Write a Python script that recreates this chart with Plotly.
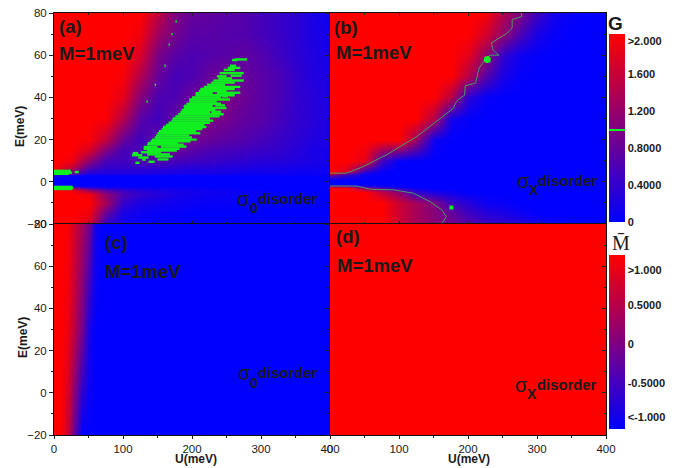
import plotly.graph_objects as go

W, H = 682, 468
BLUE_RED = [[0, "#0000ff"], [1, "#ff0000"]]

U_GRID = [0, 25, 50, 75, 100, 125, 150, 175, 200, 225, 250, 275, 300, 325, 350, 375, 400]
E_A = [80, 70, 60, 50, 40, 30, 20, 15, 10, 7, 5, 3.8, 3, 2, -1.5, -2.2, -3, -4, -6, -10, -15, -20]
G_A = [
    [2, 2, 2, 2, 2, 2, 1.5, 1.0, .8, .75, .7, .65, .55, .45, .35, .2, .1],
    [2, 2, 2, 2, 2, 1.9, 1.25, .9, .7, .7, .65, .65, .55, .45, .35, .2, .15],
    [2, 2, 2, 2, 2, 1.7, .95, .7, .6, .65, .7, .75, .65, .5, .35, .25, .15],
    [2, 2, 2, 2, 1.95, 1.4, .8, .55, .6, .8, .9, .8, .7, .6, .4, .25, .2],
    [2, 2, 2, 2, 1.8, 1.05, .6, .6, .85, .95, .95, .85, .7, .6, .4, .3, .2],
    [2, 2, 2, 1.95, 1.4, .7, .5, .8, 1, 1, .9, .75, .7, .55, .4, .3, .2],
    [2, 2, 1.95, 1.5, .8, .5, .8, .95, .9, .8, .7, .65, .55, .45, .35, .25, .2],
    [2, 2, 1.7, 1.0, .55, .6, .85, .85, .7, .6, .55, .5, .45, .4, .3, .2, .15],
    [2, 1.9, 1.1, .55, .5, .65, .65, .55, .5, .45, .4, .35, .3, .3, .25, .2, .15],
    [2, 1.6, .7, .4, .4, .4, .4, .35, .3, .3, .25, .25, .2, .2, .15, .15, .1],
    [2, 1.1, .4, .3, .3, .3, .25, .25, .2, .2, .2, .15, .15, .15, .1, .1, .1],
    [1.9, .7, .2, .2, .2, .2, .2, .15, .15, .15, .15, .1, .1, .1, .1, .1, .1],
    [.3, .1, .02, .02, .02, .02, .02, .02, .02, .02, .02, .02, .02, .02, .02, .02, .02],
    [0, 0, 0, 0, 0, 0, 0, 0, 0, 0, 0, 0, 0, 0, 0, 0, 0],
    [0, 0, 0, 0, 0, 0, 0, 0, 0, 0, 0, 0, 0, 0, 0, 0, 0],
    [.2, .1, .05, .02, 0, 0, 0, 0, 0, 0, 0, 0, 0, 0, 0, 0, 0],
    [1.8, 1.2, .6, .3, .2, .15, .12, .1, .08, .05, .05, 0, 0, 0, 0, 0, 0],
    [2, 1.9, 1.2, .7, .4, .3, .2, .15, .12, .1, .08, .05, .05, 0, 0, 0, 0],
    [2, 2, 1.9, 1.1, .6, .4, .3, .2, .15, .1, .1, .05, .05, 0, 0, 0, 0],
    [2, 2, 2, 1.3, .4, .2, .15, .1, .08, .05, .05, 0, 0, 0, 0, 0, 0],
    [2, 2, 1.9, .8, .2, .1, .05, .05, 0, 0, 0, 0, 0, 0, 0, 0, 0],
    [2, 2, 1.7, .4, .1, .05, 0, 0, 0, 0, 0, 0, 0, 0, 0, 0, 0],
]

E_B = [80, 70, 60, 50, 40, 30, 20, 10, 5, 4, 3, 1, -1, -2, -3, -5, -10, -15, -20]
G_B = [
    [2, 2, 2, 2, 2, 2, 2, 2, 2, 1.95, 1.4, 1.0, .5, .15, .05, 0, 0],
    [2, 2, 2, 2, 2, 2, 2, 2, 2, 1.7, 1.15, .6, .2, .05, 0, 0, 0],
    [2, 2, 2, 2, 2, 2, 2, 2, 1.8, 1.2, .4, .1, .03, 0, 0, 0, 0],
    [2, 2, 2, 2, 2, 2, 2, 2, 1.45, .7, .2, .03, 0, 0, 0, 0, 0],
    [2, 2, 2, 2, 2, 2, 2, 1.45, .35, .05, 0, 0, 0, 0, 0, 0, 0],
    [2, 2, 2, 2, 2, 2, 1.4, .15, .02, 0, 0, 0, 0, 0, 0, 0, 0],
    [2, 2, 2, 2, 2, 1.2, .1, 0, 0, 0, 0, 0, 0, 0, 0, 0, 0],
    [2, 2, 1.8, .5, .02, 0, 0, 0, 0, 0, 0, 0, 0, 0, 0, 0, 0],
    [2, 1.7, .5, .05, 0, 0, 0, 0, 0, 0, 0, 0, 0, 0, 0, 0, 0],
    [2, 1.0, .2, .02, 0, 0, 0, 0, 0, 0, 0, 0, 0, 0, 0, 0, 0],
    [.9, .4, .05, 0, 0, 0, 0, 0, 0, 0, 0, 0, 0, 0, 0, 0, 0],
    [0, 0, 0, 0, 0, 0, 0, 0, 0, 0, 0, 0, 0, 0, 0, 0, 0],
    [0, 0, 0, 0, 0, 0, 0, 0, 0, 0, 0, 0, 0, 0, 0, 0, 0],
    [1.1, .9, .3, .1, 0, 0, 0, 0, 0, 0, 0, 0, 0, 0, 0, 0, 0],
    [2, 2, 1.1, .7, .3, .1, 0, 0, 0, 0, 0, 0, 0, 0, 0, 0, 0],
    [2, 2, 2, 1.5, 1.1, .4, .2, .1, 0, 0, 0, 0, 0, 0, 0, 0, 0],
    [2, 2, 2, 2, 1.6, 1.3, 1.0, .5, .3, .1, .05, 0, 0, 0, 0, 0, 0],
    [2, 2, 2, 2, 1.6, 1.3, 1.05, .8, .5, .3, .2, .1, 0, 0, 0, 0, 0],
    [2, 2, 2, 2, 1.6, 1.3, 1.1, .9, .7, .5, .4, .3, .2, .1, 0, 0, 0],
]

U_C = [0, 10, 20, 30, 40, 50, 60, 70, 400]
E_C = [80, 30, -20]
M_C = [
    [1, 1, .95, .6, .3, -.1, -.85, -1, -1],
    [1, 1, .85, .4, -.1, -.8, -1, -1, -1],
    [1, 1, .55, -.3, -1, -1, -1, -1, -1],
]

U_D = [0, 400]
E_D = [-20, 80]
M_D = [[1, 1], [1, 1]]

# panel (a) green patches: E, U start, U end
GREEN_A = [
    (5.2, 0, 24), (4.8, 0, 24), (4.3, 0, 26), (3.8, 0, 22), (4.6, 30, 36),
    (-2.4, 0, 27), (-3, 0, 28), (-3.4, 0, 26),
    (9, 118, 124), (9.5, 137, 146), (10.5, 128, 133), (10.6, 150, 166),
    (11.5, 122, 137), (12, 146, 172), (12.6, 113, 128), (13, 135, 168), (13.6, 114, 122),
    (14, 126, 155), (14.8, 135, 178), (15.6, 130, 182), (16.5, 130, 150), (16.7, 155, 192),
    (17.6, 135, 188), (18.4, 136, 180), (19.2, 140, 198), (20, 142, 207), (21, 146, 200),
    (22, 148, 196), (23, 150, 212), (24, 152, 206), (25, 156, 215), (26, 158, 221), (27, 162, 218),
    (28, 166, 226), (29, 170, 231), (30, 172, 226), (31, 176, 240), (32, 180, 246), (33, 183, 226),
    (33.2, 228, 242), (34, 185, 234), (35, 188, 250), (36, 188, 230), (36.2, 234, 248), (37, 192, 242),
    (38, 196, 236), (39, 196, 255), (40, 200, 242), (40.5, 244, 252), (41, 205, 262), (42, 205, 230),
    (42.2, 236, 270), (43, 210, 250), (44, 212, 262), (45, 217, 270), (46, 222, 248), (47, 228, 262),
    (48, 231, 275), (49, 238, 258), (50, 236, 250), (50.3, 256, 272), (51.5, 240, 275), (53, 246, 262),
    (54, 252, 270), (55, 255, 264), (58, 262, 280), (57.7, 258, 266),
    # faint specks along the red edge
    (76, 176, 178), (70, 170, 172), (65, 166, 168), (55, 160, 162), (46, 146, 148), (38, 134, 136),
]

LINE_B_U = [0, 24, 48, 82, 126, 155, 179, 182, 186, 195, 196, 211, 216, 225, 232, 245, 236, 234, 257, 264, 264, 278, 277]
LINE_B_E = [4.1, 4.1, 7.2, 12.8, 21.5, 28.6, 34.9, 37.3, 39, 41, 45.5, 46.8, 53.9, 57.9, 60, 60, 62.6, 65.8, 70.5, 72.9, 76.8, 78.4, 80]
LINE_B2_U = [0, 39, 58, 92, 121, 145, 162, 168.5, 162]
LINE_B2_E = [-2, -2, -3.5, -3.8, -5.4, -9.4, -13.3, -16.5, -20]
DOT_B_U = [228, 176]
DOT_B_E = [58, -12.2]
DOT_B_SIZE = [7, 4]

G_TICKS = [0, 0.4, 0.8, 1.2, 1.6, 1.96]
G_LABELS = ["0", "0.4000", "0.8000", "1.200", "1.600", ">2.000"]
M_TICKS = [-0.94, -0.5, 0, 0.5, 0.96]
M_LABELS = ["<-1.000", "-0.5000", "0", "0.5000", ">1.000"]

FONT = "Liberation Sans"
INK = "#1a1a1a"
PAGE = 8  # the browser's default page margin
L, R, T, B = 54, 606, 13, 435
PW, PH = R - L, B - T

def fx(px):
    return (px - L) / PW

def fy(py):
    return (B - py) / PH

fig = go.Figure()
DOMS = {
    "a": ("x", "y", [0, .5], [.5, 1]),
    "b": ("x2", "y2", [.5, 1], [.5, 1]),
    "c": ("x3", "y3", [0, .5], [0, .5]),
    "d": ("x4", "y4", [.5, 1], [0, .5]),
}

def hm(x, y, z, p, lo, hi):
    fig.add_trace(go.Heatmap(x=x, y=y, z=z, xaxis=DOMS[p][0], yaxis=DOMS[p][1], zmin=lo, zmax=hi,
                             colorscale=BLUE_RED, showscale=False, zsmooth="best", hoverinfo="skip"))

hm(U_GRID, E_A, G_A, "a", 0, 2)
hm(U_GRID, E_B, G_B, "b", 0, 2)
hm(U_C, E_C, M_C, "c", -1, 1)
hm(U_D, E_D, M_D, "d", -1, 1)

gx, gy = [], []
for e, u0, u1 in GREEN_A:
    gx += [u0, u1, None]
    gy += [e, e, None]
fig.add_trace(go.Scatter(x=gx, y=gy, xaxis="x", yaxis="y", mode="lines", line=dict(color="#10f020", width=2.4),
                         hoverinfo="skip", showlegend=False))
for lx, ly in ((LINE_B_U, LINE_B_E), (LINE_B2_U, LINE_B2_E)):
    fig.add_trace(go.Scatter(x=lx, y=ly, xaxis="x2", yaxis="y2", mode="lines", opacity=0.8,
                             line=dict(color="#45c060", width=1),
                             hoverinfo="skip", showlegend=False))
fig.add_trace(go.Scatter(x=DOT_B_U, y=DOT_B_E, xaxis="x2", yaxis="y2", mode="markers",
                         marker=dict(color="#10f020", size=DOT_B_SIZE, symbol=["circle", "square"], opacity=1,
                                     line=dict(width=0)),
                         hoverinfo="skip", showlegend=False))

# empty traces so the right-hand tick axes of (b) and (d) are drawn
for yname, xname in (("y5", "x2"), ("y6", "x4")):
    fig.add_trace(go.Scatter(x=[None], y=[None], xaxis=xname, yaxis=yname, mode="lines", hoverinfo="skip", showlegend=False))

# colour keys, carried by traces lying outside the axis ranges
p = 1.0 / 2.04
G_SCALE = [[0, "#0000ff"], [p - .006, "#7d0082"], [p - .006, "#10f020"], [p + .006, "#10f020"],
           [p + .006, "#7d0082"], [1, "#ff0000"]]
fig.add_trace(go.Heatmap(x=[-900, -800], y=[-900, -800], z=[[0, 1], [1.5, 2.04]], zmin=0, zmax=2.04,
                         xaxis="x2", yaxis="y2", colorscale=G_SCALE, hoverinfo="skip",
                         colorbar=dict(x=fx(609), xanchor="left", xpad=0, thickness=16, thicknessmode="pixels",
                                       lenmode="pixels", len=188, y=fy(222), yanchor="bottom", ypad=0,
                                       outlinewidth=0, ticks="", tickvals=G_TICKS, ticktext=G_LABELS,
                                       tickfont=dict(family=FONT, size=11, color=INK, weight="bold"))))
fig.add_trace(go.Heatmap(x=[-900, -800], y=[-900, -800], z=[[-1.09, 0], [.5, 1.15]], zmin=-1.09, zmax=1.15,
                         xaxis="x4", yaxis="y4", colorscale=BLUE_RED, hoverinfo="skip",
                         colorbar=dict(x=fx(609), xanchor="left", xpad=0, thickness=16, thicknessmode="pixels",
                                       lenmode="pixels", len=174, y=fy(429), yanchor="bottom", ypad=0,
                                       outlinewidth=0, ticks="", tickvals=M_TICKS, ticktext=M_LABELS,
                                       tickfont=dict(family=FONT, size=11, color=INK, weight="bold"))))

tf = dict(family=FONT, size=11.5, color=INK)
layout = dict(width=W - PAGE, height=H - PAGE, margin=dict(l=L - PAGE, r=W - R, t=T - PAGE, b=H - B, autoexpand=False),
              paper_bgcolor="white", plot_bgcolor="white", showlegend=False, font=dict(family=FONT, color=INK))
for key, (xa, ya, dx, dy) in DOMS.items():
    low = key in "cd"
    left = key in "ac"
    xn = "xaxis" + xa[1:]
    yn = "yaxis" + ya[1:]
    layout[xn] = dict(domain=dx, range=[0, 400], anchor=ya, showline=True, linecolor="#111", linewidth=1,
                      mirror=True if low else "ticks",
                      showgrid=False, zeroline=False, tick0=0, dtick=100, ticks="outside" if low else "inside", ticklen=3,
                      tickwidth=1, tickcolor="#222", showticklabels=low, tickfont=tf, ticklabeloverflow="allow",
                      minor=dict(dtick=50, ticks="outside" if low else "inside", ticklen=2, tickcolor="#222", showgrid=False))
    layout[yn] = dict(domain=dy, range=[-20, 80], anchor=xa, showline=True, linecolor="#111", linewidth=1, mirror=True,
                      showgrid=False, zeroline=False, tick0=0, dtick=20, ticks="outside", ticklen=4, tickwidth=1,
                      tickcolor="#222", showticklabels=left, tickfont=tf, ticklabeloverflow="allow",
                      minor=dict(dtick=10, ticks="outside", ticklen=2, tickcolor="#222", showgrid=False))
for name, over, xa in (("yaxis5", "y2", "x2"), ("yaxis6", "y4", "x4")):
    layout[name] = dict(overlaying=over, side="right", anchor=xa, range=[-20, 80], showline=False, showgrid=False,
                        zeroline=False, tick0=0, dtick=20, ticks="inside", ticklen=4, tickwidth=1, tickcolor="#222",
                        showticklabels=False,
                        minor=dict(dtick=10, ticks="inside", ticklen=2, tickcolor="#222", showgrid=False))
fig.update_layout(**layout)

def note(x, y, text, size=18.5, bold=True, anchor="left", angle=0, family=FONT):
    fig.add_annotation(xref="paper", yref="paper", x=fx(x), y=fy(y), text=text, showarrow=False, xanchor=anchor,
                       yanchor="middle", textangle=angle, borderpad=0,
                       font=dict(family=family, size=size, color=INK, weight="bold" if bold else "normal"))

def disorder(x_sigma, x_sub, x_word, y, y_sub, sub):
    note(x_sigma, y, "σ", size=20, bold=False)
    note(x_sub, y_sub, sub, size=14)
    note(x_word, y, "disorder", size=14.8)

note(58, 26, "(a)")
note(58, 54, "M=1meV")
note(333, 28, "(b)")
note(335, 52, "M=1meV")
note(104, 243, "(c)")
note(104, 271, "M=1meV")
note(335, 237, "(d)")
note(336, 265, "M=1meV")
disorder(236, 249, 257, 199, 208, "0")
disorder(516, 528, 537, 181, 190, "X")
disorder(237, 249, 257, 373, 383, "0")
disorder(514, 526, 536, 385, 394, "X")
note(196, 459, "U(meV)", size=12, anchor="center")
note(469, 459, "U(meV)", size=12, anchor="center")
note(20, 127, "E(meV)", size=12, anchor="center", angle=-90)
note(23, 338, "E(meV)", size=12, anchor="center", angle=-90)
note(615, 23, "G", size=19, anchor="center")
note(621, 243, "M\u0304", size=20, bold=False, anchor="center", family="Liberation Serif")

fig.write_html("out.html")
